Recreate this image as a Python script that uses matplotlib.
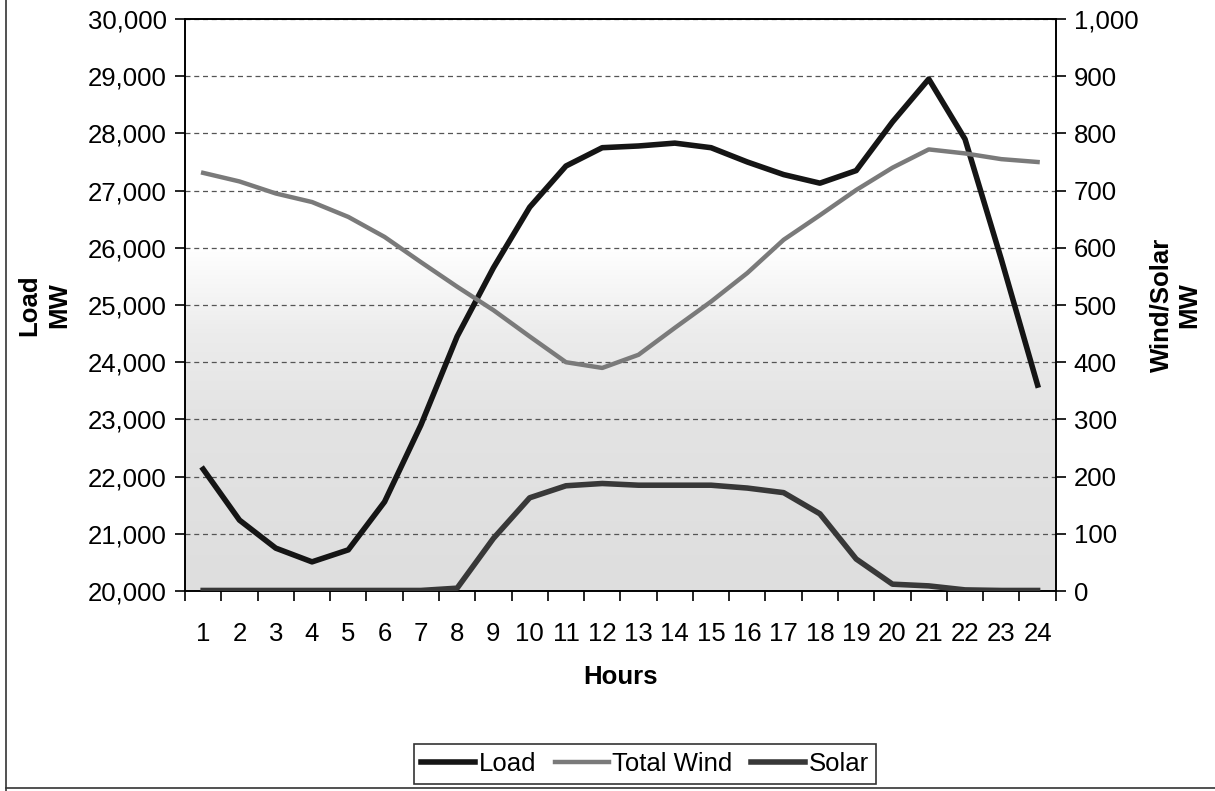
import numpy as np
import matplotlib.pyplot as plt
from matplotlib.colors import LinearSegmentedColormap
from matplotlib.lines import Line2D

plt.rcParams['font.family'] = ['Liberation Sans', 'DejaVu Sans']

# data
hours = list(range(1, 25))
load = [22130, 21240, 20750, 20510, 20720, 21560, 22900, 24450, 25650, 26710,
        27430, 27750, 27780, 27830, 27750, 27500, 27280, 27130, 27350, 28200,
        28950, 27900, 25800, 23600]
wind = [731, 716, 695, 680, 654, 619, 575, 532, 491, 445,
        400, 390, 413, 460, 506, 556, 614, 657, 701, 740,
        772, 765, 755, 750]
solar = [1, 1, 1, 1, 1, 1, 1, 5, 92, 163,
         184, 188, 185, 185, 185, 180, 172, 135, 56, 12,
         9, 2, 1, 1]

fig = plt.figure(figsize=(12.15, 7.91), dpi=100)
ax = fig.add_axes([0.1523, 0.2528, 0.7166, 0.7232])
ax2 = ax.twinx()

# background shading (white top, light grey towards bottom)
grad = np.linspace(0, 1, 256).reshape(-1, 1)
cmap = LinearSegmentedColormap.from_list(
    'bg', [(0, '#dedede'), (0.3, '#e3e3e3'), (0.45, '#ececec'),
           (0.6, '#ffffff'), (1, '#ffffff')])
ax.imshow(grad, extent=[0, 1, 0, 1], transform=ax.transAxes, cmap=cmap,
          aspect='auto', origin='lower', zorder=0)

ax.set_xlim(0.5, 24.5)
ax.set_ylim(20000, 30000)
ax2.set_ylim(0, 1000)

ax.set_yticks(np.arange(20000, 30001, 1000))
ax.set_yticklabels([f'{v:,}' for v in range(20000, 30001, 1000)])
ax2.set_yticks(np.arange(0, 1001, 100))
ax2.set_yticklabels([f'{v:,}' for v in range(0, 1001, 100)])

ax.set_xticks(hours)
ax.set_xticklabels([str(h) for h in hours])
ax.set_xticks(np.arange(0.5, 25, 1), minor=True)
ax.tick_params(axis='x', which='major', length=0, pad=22, labelsize=18.5)
ax.tick_params(axis='x', which='minor', length=7, width=1.2, direction='out')
ax.tick_params(axis='y', length=7, width=1.2, labelsize=18.5, pad=6)
ax2.tick_params(axis='y', length=7, width=1.2, labelsize=18.5, pad=6)

ax.grid(axis='y', linestyle=(0, (4, 3)), color='#555555', linewidth=0.9)
ax.set_axisbelow(True)
for s in ['top', 'left', 'right', 'bottom']:
    ax.spines[s].set_linewidth(1.2)
    ax2.spines[s].set_linewidth(1.2)

ax.plot(hours, load, color='#151515', linewidth=4, zorder=5)
ax2.plot(hours, wind, color='#7a7a7a', linewidth=3.2, zorder=4)
ax2.plot(hours, solar, color='#383838', linewidth=4, zorder=4)
ax.patch.set_visible(False)

ax.set_xlabel('Hours', fontsize=18.5, fontweight='bold', labelpad=14)
ax.set_ylabel('Load\nMW', fontsize=18.5, fontweight='bold', labelpad=12, linespacing=1.3)
ax2.set_ylabel('Wind/Solar\nMW', fontsize=18.5, fontweight='bold', labelpad=8, linespacing=1.2)

handles = [Line2D([], [], color='#151515', linewidth=4),
           Line2D([], [], color='#7a7a7a', linewidth=3.2),
           Line2D([], [], color='#383838', linewidth=4)]
leg = fig.legend(handles, ['Load', 'Total Wind', 'Solar'], loc='center',
                 bbox_to_anchor=(645 / 1215, 1 - 764 / 791), ncol=3, fontsize=18.5,
                 frameon=True, fancybox=False, edgecolor='black',
                 handlelength=2.1, handletextpad=0.15, columnspacing=0.7,
                 borderpad=0.3)
leg.get_frame().set_linewidth(1.2)

# outer chart border
fig.add_artist(Line2D([6 / 1215, 6 / 1215], [0, 1], color='#333333', linewidth=1.2, transform=fig.transFigure))
fig.add_artist(Line2D([6 / 1215, 1], [3 / 791, 3 / 791], color='#333333', linewidth=1.2, transform=fig.transFigure))

fig.savefig('out.png', dpi=100)
